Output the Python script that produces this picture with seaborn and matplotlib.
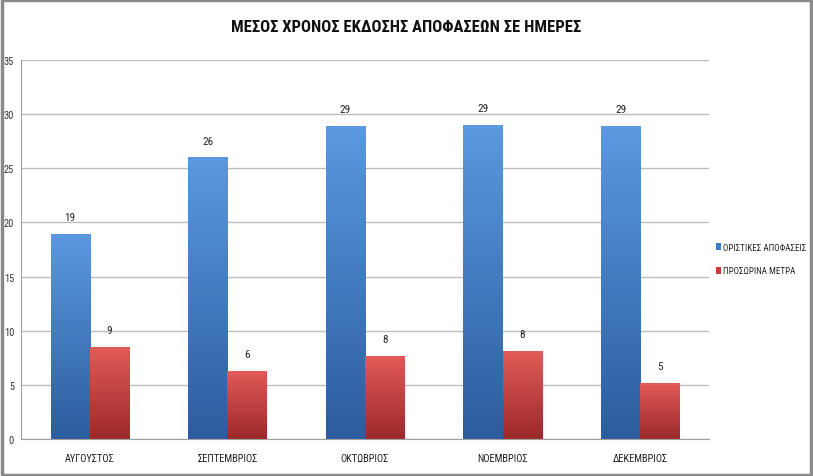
import numpy as np
import pandas as pd
import matplotlib
matplotlib.use("Agg")
import matplotlib.pyplot as plt
from matplotlib import font_manager
import seaborn as sns

months = ["ΑΥΓΟΥΣΤΟΣ", "ΣΕΠΤΕΜΒΡΙΟΣ", "ΟΚΤΩΒΡΙΟΣ", "ΝΟΕΜΒΡΙΟΣ", "ΔΕΚΕΜΒΡΙΟΣ"]
final_decisions = [18.9, 26.0, 28.9, 29.0, 28.9]
interim_measures = [8.5, 6.3, 7.7, 8.1, 5.2]
series_names = ["ΟΡΙΣΤΙΚΕΣ ΑΠΟΦΑΣΕΙΣ", "ΠΡΟΣΩΡΙΝΑ ΜΕΤΡΑ"]

df = pd.DataFrame({
    "month": months * 2,
    "days": final_decisions + interim_measures,
    "series": [series_names[0]] * len(months) + [series_names[1]] * len(months),
})

sns.set_style("white")

# pick a narrow font if one is around (reference uses a condensed face)
available = {f.name for f in font_manager.fontManager.ttflist}
narrow = [n for n in ["Liberation Sans Narrow", "Roboto Condensed", "Open Sans Condensed"] if n in available]
plt.rcParams["font.family"] = narrow + ["DejaVu Sans"]
plt.rcParams["font.stretch"] = "condensed"

fig = plt.figure(figsize=(8.13, 4.77), dpi=100)
ax = fig.add_axes([21 / 813, 1 - 440 / 477, (709 - 21) / 813, (440 - 61) / 477])

colors = {series_names[0]: "#3d7cc9", series_names[1]: "#c93c3b"}
sns.barplot(data=df, x="month", y="days", hue="series", palette=colors,
            width=0.57, ax=ax, saturation=1, edgecolor="none", legend=False)

# gradient fill to mimic the Excel cylinder look
shades = {series_names[0]: ("#2c5d9e", "#5b98e0"), series_names[1]: ("#9c2a2a", "#e25a58")}
for patch, name in zip(ax.patches, [series_names[0]] * 5 + [series_names[1]] * 5):
    x0, y0 = patch.get_x(), patch.get_y()
    w, h = patch.get_width(), patch.get_height()
    c_dark, c_light = shades[name]
    cmap = matplotlib.colors.LinearSegmentedColormap.from_list("g", [c_light, c_dark])
    grad = np.linspace(0, 1, 64).reshape(-1, 1)
    im = ax.imshow(grad, extent=[x0, x0 + w, y0, y0 + h], aspect="auto",
                   cmap=cmap, origin="upper", zorder=patch.get_zorder() + 0.1)
    im.set_clip_path(patch)
    ax.add_patch(plt.Rectangle((x0, y0 + h - 0.35), w, 0.35, color=c_light,
                               zorder=patch.get_zorder() + 0.2, lw=0))

for i, (b, r) in enumerate(zip(final_decisions, interim_measures)):
    ax.text(i - 0.143, b + 1.1, f"{int(b + 0.5)}", ha="center", va="bottom", fontsize=8, color="#222222")
    ax.text(i + 0.143, r + 1.1, f"{int(r + 0.5)}", ha="center", va="bottom", fontsize=8, color="#222222")

ax.set_xlim(-0.5, 4.5)
ax.set_ylim(0, 35)
ax.set_yticks(range(0, 36, 5))
ax.yaxis.grid(True, color="#bdbdbd", lw=1)
ax.set_axisbelow(True)
ax.set_xlabel("")
ax.set_ylabel("")
ax.tick_params(axis="y", labelsize=7.5, length=3, width=1, color="#a0a0a0", pad=2, colors="#333333")
ax.tick_params(axis="y", color="#a0a0a0")
ax.tick_params(axis="x", labelsize=7.5, length=0, pad=10, colors="#222222")
ax.set_xticks(np.arange(-0.5, 5, 1), minor=True)
ax.tick_params(axis="x", which="minor", length=4, color="#a0a0a0")
for s in ["top", "right"]:
    ax.spines[s].set_visible(False)
ax.spines["left"].set_color("#a0a0a0")
ax.spines["bottom"].set_color("#a0a0a0")

fig.text(0.5, 1 - 28 / 477, "ΜΕΣΟΣ ΧΡΟΝΟΣ ΕΚΔΟΣΗΣ ΑΠΟΦΑΣΕΩΝ ΣΕ ΗΜΕΡΕΣ",
         ha="center", va="center", fontsize=12, fontweight="bold", color="#111111")

handles = [matplotlib.patches.Patch(facecolor=colors[n], edgecolor="none") for n in series_names]
fig.legend(handles, series_names, loc="center left", bbox_to_anchor=(716 / 813, 1 - 260 / 477),
           frameon=False, fontsize=6.5, handlelength=0.6, handleheight=0.8,
           handletextpad=0.2, labelspacing=1.6, borderaxespad=0, borderpad=0)

fig.patches.append(plt.Rectangle((0.002, 0.003), 0.995, 0.994, transform=fig.transFigure,
                                 fill=False, edgecolor="#8a8a8a", lw=2.5))

fig.savefig("out.png", dpi=100)
